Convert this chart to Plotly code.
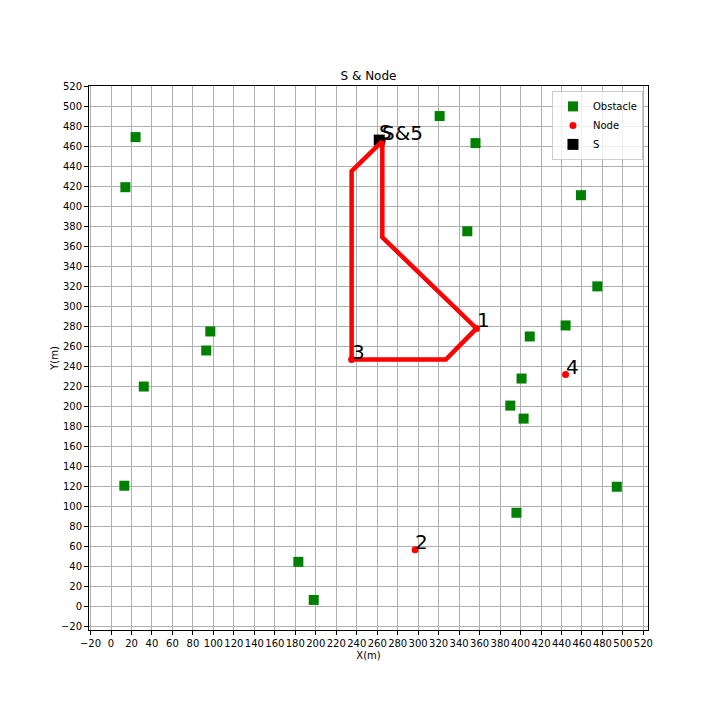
import plotly.graph_objects as go

# Obstacles
obs_x = [24, 14, 97, 93, 32, 13, 183, 198, 321, 356, 348, 459, 475, 444, 409, 401, 390, 403, 494, 396]
obs_y = [469, 419, 275, 256, 220, 121, 45, 7, 490, 463, 375, 411, 320, 281, 270, 228, 201, 188, 120, 94]

# Nodes
node_x = [357, 297, 235, 444, 265]
node_y = [278, 57, 247, 232, 465]
node_labels = ["1", "2", "3", "4", "S&5"]

# Start point
s_x = [262]
s_y = [466]
s_label = "S"

# Route
path_x = [265, 265, 357, 327, 235, 235, 265]
path_y = [465, 369, 278, 247, 247, 435, 465]

tick_vals = list(range(-20, 540, 20))

FONT = "DejaVu Sans"

fig = go.Figure()
fig.add_trace(go.Scatter(x=obs_x, y=obs_y, mode="markers", name="Obstacle",
                         marker=dict(symbol="square", size=10, color="green")))
fig.add_trace(go.Scatter(x=node_x, y=node_y, mode="markers", name="Node",
                         marker=dict(symbol="circle", size=7, color="red")))
fig.add_trace(go.Scatter(x=s_x, y=s_y, mode="markers", name="S",
                         marker=dict(symbol="square", size=11, color="black")))
fig.add_trace(go.Scatter(x=path_x, y=path_y, mode="lines", showlegend=False,
                         line=dict(color="red", width=4.5)))

annots = []
for x, y, t in zip(s_x + node_x, s_y + node_y, [s_label] + node_labels):
    annots.append(dict(x=x, y=y, text=t, showarrow=False, xanchor="left", yanchor="bottom",
                       xshift=-2, yshift=-6, font=dict(family=FONT, size=20, color="black")))

axis_common = dict(showgrid=True, gridcolor="#b0b0b0", gridwidth=1,
                   showline=True, linecolor="black", linewidth=1, mirror=True,
                   ticks="outside", ticklen=4, tickcolor="black", tickwidth=1,
                   tickfont=dict(family=FONT, size=10, color="black"),
                   zeroline=False, tickmode="array", tickvals=tick_vals,
                   automargin=False, tickangle=0)

# page body has an 8px margin, so the figure is laid out 8px up/left of the page target
fig.update_layout(
    width=720, height=720,
    margin=dict(l=81, r=80, t=78, b=98),
    paper_bgcolor="white", plot_bgcolor="white",
    title=dict(text="S & Node", x=(368.5 - 8) / 720, xanchor="center", y=1 - 68 / 720, yanchor="middle",
               font=dict(family=FONT, size=12, color="black")),
    xaxis=dict(range=[-21.5, 524.5], title=dict(text="X(m)", font=dict(family=FONT, size=10, color="black"), standoff=3),
               **axis_common),
    yaxis=dict(range=[-23, 520], title=dict(text="Y(m)", font=dict(family=FONT, size=10, color="black"), standoff=0),
               **axis_common),
    legend=dict(x=0.991, y=0.991, xanchor="right", yanchor="top", bgcolor="rgba(255,255,255,0.8)",
                bordercolor="#cccccc", borderwidth=1, font=dict(family=FONT, size=10, color="black"),
                tracegroupgap=0, itemwidth=30),
    annotations=annots,
    showlegend=True,
)

fig.write_html("out.html")
